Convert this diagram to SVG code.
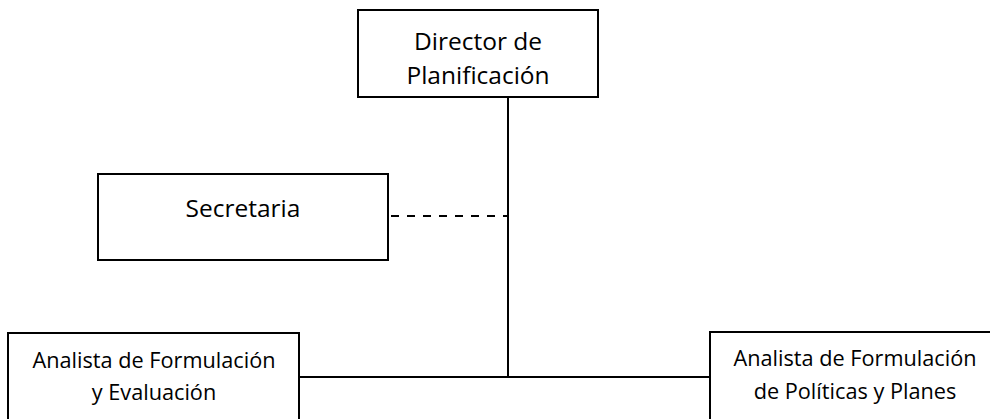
<svg xmlns="http://www.w3.org/2000/svg" width="990" height="419" viewBox="0 0 990 419">
<style>
.box{fill:#fff;stroke:#000;stroke-width:2}
.t{font-family:"Open Sans","Noto Sans","Liberation Sans",sans-serif;font-size:24.5px;fill:#000;text-anchor:middle}
.s{font-size:21.7px}
.ln{stroke:#000;stroke-width:2;fill:none}
.dash{stroke:#000;stroke-width:2;fill:none;stroke-dasharray:8,8}
</style>
<rect width="990" height="419" fill="#fff"/>
<g id="connectors">
<line class="ln" x1="508" y1="97" x2="508" y2="377"/>
<line class="dash" x1="391" y1="216" x2="507" y2="216"/>
<line class="ln" x1="299" y1="377" x2="710" y2="377"/>
</g>
<g id="director">
<rect class="box" x="358" y="10" width="240" height="87"/>
<text class="t" x="478" y="50">Director de</text>
<text class="t" x="478" y="84">Planificación</text>
</g>
<g id="secretaria">
<rect class="box" x="98" y="174" width="290" height="86"/>
<text class="t" x="243" y="217">Secretaria</text>
</g>
<g id="analista1">
<rect class="box" x="8" y="333" width="291" height="100"/>
<text class="t s" x="154" y="368">Analista de Formulación</text>
<text class="t s" x="154" y="400">y Evaluación</text>
</g>
<g id="analista2">
<rect class="box" x="710" y="332" width="300" height="100"/>
<text class="t s" x="855" y="366">Analista de Formulación</text>
<text class="t s" x="855" y="399">de Políticas y Planes</text>
</g>
</svg>
